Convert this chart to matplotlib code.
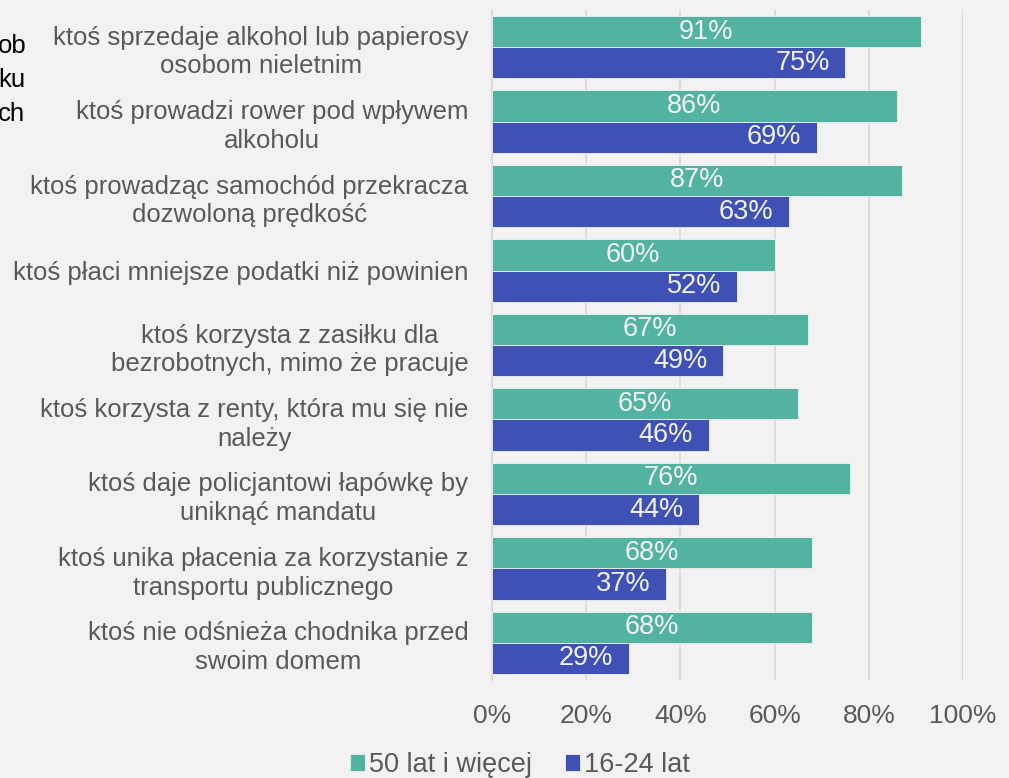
import matplotlib
matplotlib.use("Agg")
import matplotlib.pyplot as plt
import numpy as np

plt.rcParams['font.family'] = ['Liberation Sans', 'DejaVu Sans']

categories = [
    "ktoś sprzedaje alkohol lub papierosy\nosobom nieletnim",
    "ktoś prowadzi rower pod wpływem\nalkoholu",
    "ktoś prowadząc samochód przekracza\ndozwoloną prędkość",
    "ktoś płaci mniejsze podatki niż powinien",
    "ktoś korzysta z zasiłku dla\nbezrobotnych, mimo że pracuje",
    "ktoś korzysta z renty, która mu się nie\nnależy",
    "ktoś daje policjantowi łapówkę by\nuniknąć mandatu",
    "ktoś unika płacenia za korzystanie z\ntransportu publicznego",
    "ktoś nie odśnieża chodnika przed\nswoim domem",
]
older = [91, 86, 87, 60, 67, 65, 76, 68, 68]
young = [75, 69, 63, 52, 49, 46, 44, 37, 29]
series_names = ["50 lat i więcej", "16-24 lat"]
xticks = [0, 20, 40, 60, 80, 100]

GREEN = "#52B3A0"
BLUE = "#3F51B5"
BG = "#F2F2F2"
TXT = "#595959"

W, H = 1009, 778
fig = plt.figure(figsize=(W / 100, H / 100), dpi=100, facecolor=BG)
ax = fig.add_axes([492 / W, 1 - 680 / H, (963 - 492) / W, (680 - 10) / H])
ax.set_facecolor(BG)

n = len(categories)
y = np.arange(n)
bh = 0.42
b1 = ax.barh(y - bh / 2, older, height=bh, color=GREEN, edgecolor=BG, linewidth=0.6, zorder=3)
b2 = ax.barh(y + bh / 2, young, height=bh, color=BLUE, edgecolor=BG, linewidth=0.6, zorder=3)

for rect, v in zip(b1, older):
    ax.text(rect.get_x() + rect.get_width() / 2, rect.get_y() + rect.get_height() / 2,
            f"{v}%", ha="center", va="center", color="#F2F2F2", fontsize=19.5, zorder=4)
for rect, v in zip(b2, young):
    ax.text(rect.get_width() - 3.3, rect.get_y() + rect.get_height() / 2,
            f"{v}%", ha="right", va="center", color="#F2F2F2", fontsize=19.5, zorder=4)

ax.set_xlim(0, 100)
ax.set_ylim(n - 0.5, -0.5)
ax.set_xticks(xticks)
ax.set_xticklabels([f"{t}%" for t in xticks], fontsize=19, color=TXT)
ax.set_yticks(y)
ax.set_yticklabels(categories, fontsize=18.5, color=TXT, ha="right",
                   multialignment="center", linespacing=1.25)
ax.tick_params(axis="y", length=0, pad=17)
ax.tick_params(axis="x", length=0, pad=17)
ax.grid(axis="x", color="#D9D9D9", linewidth=1.2, zorder=0)
for s in ["top", "right", "bottom"]:
    ax.spines[s].set_visible(False)
ax.spines["left"].set_color("#D9D9D9")
ax.spines["left"].set_linewidth(1.2)

fig.legend([b1, b2], series_names, loc="center", bbox_to_anchor=(520 / W, 1 - 765 / H),
           ncol=2, frameon=False, fontsize=19.5, handlelength=0.55, handleheight=0.55,
           handletextpad=0.15, columnspacing=1.2, labelcolor=TXT)

for txt, yy in zip(["ob", "ku", "ch"], [46, 80, 114]):
    fig.text(-2 / W, 1 - yy / H, txt, ha="left", va="center", fontsize=18.5, color="black")

fig.savefig("out.png", dpi=100, facecolor=BG)
